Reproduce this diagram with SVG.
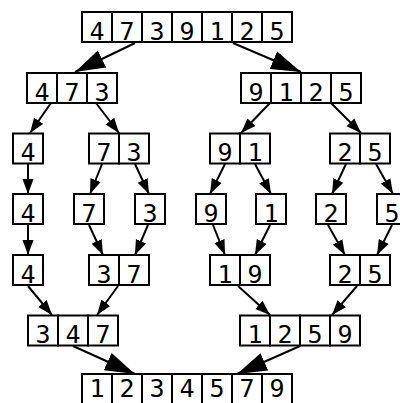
<svg xmlns="http://www.w3.org/2000/svg" width="400" height="403" viewBox="0 0 400 403">
<style>
.c{fill:#fff;stroke:#000;stroke-width:2}
.t{font-family:"DejaVu Sans Mono","Liberation Mono",monospace;font-size:25px;text-anchor:middle;fill:#000}
.e{fill:none;stroke:#000;stroke-width:2}
.s{marker-end:url(#ah)}
.b{marker-end:url(#bh)}
</style>
<defs>
<marker id="ah" markerUnits="userSpaceOnUse" markerWidth="16" markerHeight="12" refX="15" refY="6" orient="auto"><path d="M0,0.5 L15,6 L0,11.5 z" fill="#000"/></marker>
<marker id="bh" markerUnits="userSpaceOnUse" markerWidth="31" markerHeight="20" refX="30" refY="10" orient="auto"><path d="M0,0.5 L30,10 L0,19.5 z" fill="#000"/></marker>
</defs>
<rect width="400" height="403" fill="#fff"/>
<g id="connectors">
<path class="e b" d="M135,43 L75,72"/>
<path class="e b" d="M233,43 L301,72"/>
<path class="e s" d="M51,103 L30,133"/>
<path class="e s" d="M96,103 L119,133"/>
<path class="e s" d="M270,103 L241,133"/>
<path class="e s" d="M331,103 L361,133"/>
<path class="e s" d="M28,164 L28,194"/>
<path class="e s" d="M102,164 L90,194"/>
<path class="e s" d="M135,164 L149,194"/>
<path class="e s" d="M225,164 L210,194"/>
<path class="e s" d="M255,164 L271,194"/>
<path class="e s" d="M346,164 L332,194"/>
<path class="e s" d="M376,164 L393,194"/>
<path class="e s" d="M28,225 L28,255"/>
<path class="e s" d="M89,225 L103,255"/>
<path class="e s" d="M148,225 L135,255"/>
<path class="e s" d="M213,225 L225,255"/>
<path class="e s" d="M270,225 L255,255"/>
<path class="e s" d="M328,225 L345,255"/>
<path class="e s" d="M392,225 L377,255"/>
<path class="e s" d="M28,286 L52,315"/>
<path class="e s" d="M118,286 L97,315"/>
<path class="e s" d="M238,286 L270,315"/>
<path class="e s" d="M357,286 L332,315"/>
<path class="e b" d="M73,346 L135,374"/>
<path class="e b" d="M300,346 L237,374"/>
</g>
<g id="n_4739125">
<rect class="c" x="82" y="12" width="30" height="30"/><rect class="c" x="112" y="12" width="30" height="30"/><rect class="c" x="142" y="12" width="30" height="30"/><rect class="c" x="172" y="12" width="30" height="30"/><rect class="c" x="202" y="12" width="30" height="30"/><rect class="c" x="232" y="12" width="30" height="30"/><rect class="c" x="262" y="12" width="30" height="30"/>
<text class="t" x="97" y="39.5">4</text><text class="t" x="127" y="39.5">7</text><text class="t" x="157" y="39.5">3</text><text class="t" x="187" y="39.5">9</text><text class="t" x="217" y="39.5">1</text><text class="t" x="247" y="39.5">2</text><text class="t" x="277" y="39.5">5</text>
</g>
<g id="n_473">
<rect class="c" x="27" y="73" width="30" height="30"/><rect class="c" x="57" y="73" width="30" height="30"/><rect class="c" x="87" y="73" width="30" height="30"/>
<text class="t" x="42" y="100.5">4</text><text class="t" x="72" y="100.5">7</text><text class="t" x="102" y="100.5">3</text>
</g>
<g id="n_9125">
<rect class="c" x="241" y="73" width="30" height="30"/><rect class="c" x="271" y="73" width="30" height="30"/><rect class="c" x="301" y="73" width="30" height="30"/><rect class="c" x="331" y="73" width="30" height="30"/>
<text class="t" x="256" y="100.5">9</text><text class="t" x="286" y="100.5">1</text><text class="t" x="316" y="100.5">2</text><text class="t" x="346" y="100.5">5</text>
</g>
<g id="n_4a">
<rect class="c" x="13" y="133.5" width="30" height="30"/>
<text class="t" x="28" y="161">4</text>
</g>
<g id="n_73">
<rect class="c" x="89" y="133.5" width="30" height="30"/><rect class="c" x="119" y="133.5" width="30" height="30"/>
<text class="t" x="104" y="161">7</text><text class="t" x="134" y="161">3</text>
</g>
<g id="n_91">
<rect class="c" x="210" y="133.5" width="30" height="30"/><rect class="c" x="240" y="133.5" width="30" height="30"/>
<text class="t" x="225" y="161">9</text><text class="t" x="255" y="161">1</text>
</g>
<g id="n_25a">
<rect class="c" x="330" y="133.5" width="30" height="30"/><rect class="c" x="360" y="133.5" width="30" height="30"/>
<text class="t" x="345" y="161">2</text><text class="t" x="375" y="161">5</text>
</g>
<g id="n_4b"><rect class="c" x="13" y="194" width="30" height="30"/><text class="t" x="28" y="221.5">4</text></g>
<g id="n_7"><rect class="c" x="74" y="194" width="30" height="30"/><text class="t" x="89" y="221.5">7</text></g>
<g id="n_3"><rect class="c" x="135" y="194" width="30" height="30"/><text class="t" x="150" y="221.5">3</text></g>
<g id="n_9"><rect class="c" x="196" y="194" width="30" height="30"/><text class="t" x="211" y="221.5">9</text></g>
<g id="n_1"><rect class="c" x="256" y="194" width="30" height="30"/><text class="t" x="271" y="221.5">1</text></g>
<g id="n_2"><rect class="c" x="316" y="194" width="30" height="30"/><text class="t" x="331" y="221.5">2</text></g>
<g id="n_5"><rect class="c" x="377" y="194" width="30" height="30"/><text class="t" x="392" y="221.5">5</text></g>
<g id="n_4c"><rect class="c" x="13" y="255" width="30" height="30"/><text class="t" x="28" y="282.5">4</text></g>
<g id="n_37">
<rect class="c" x="89" y="255" width="30" height="30"/><rect class="c" x="119" y="255" width="30" height="30"/>
<text class="t" x="104" y="282.5">3</text><text class="t" x="134" y="282.5">7</text>
</g>
<g id="n_19">
<rect class="c" x="210" y="255" width="30" height="30"/><rect class="c" x="240" y="255" width="30" height="30"/>
<text class="t" x="225" y="282.5">1</text><text class="t" x="255" y="282.5">9</text>
</g>
<g id="n_25b">
<rect class="c" x="330" y="255" width="30" height="30"/><rect class="c" x="360" y="255" width="30" height="30"/>
<text class="t" x="345" y="282.5">2</text><text class="t" x="375" y="282.5">5</text>
</g>
<g id="n_347">
<rect class="c" x="28" y="315.5" width="30" height="30"/><rect class="c" x="58" y="315.5" width="30" height="30"/><rect class="c" x="88" y="315.5" width="30" height="30"/>
<text class="t" x="43" y="343">3</text><text class="t" x="73" y="343">4</text><text class="t" x="103" y="343">7</text>
</g>
<g id="n_1259">
<rect class="c" x="240" y="315.5" width="30" height="30"/><rect class="c" x="270" y="315.5" width="30" height="30"/><rect class="c" x="300" y="315.5" width="30" height="30"/><rect class="c" x="330" y="315.5" width="30" height="30"/>
<text class="t" x="255" y="343">1</text><text class="t" x="285" y="343">2</text><text class="t" x="315" y="343">5</text><text class="t" x="345" y="343">9</text>
</g>
<g id="n_1234579">
<rect class="c" x="82" y="374" width="30" height="30"/><rect class="c" x="112" y="374" width="30" height="30"/><rect class="c" x="142" y="374" width="30" height="30"/><rect class="c" x="172" y="374" width="30" height="30"/><rect class="c" x="202" y="374" width="30" height="30"/><rect class="c" x="232" y="374" width="30" height="30"/><rect class="c" x="262" y="374" width="30" height="30"/>
<text class="t" x="97" y="397">1</text><text class="t" x="127" y="397">2</text><text class="t" x="157" y="397">3</text><text class="t" x="187" y="397">4</text><text class="t" x="217" y="397">5</text><text class="t" x="247" y="397">7</text><text class="t" x="277" y="397">9</text>
</g>
</svg>
